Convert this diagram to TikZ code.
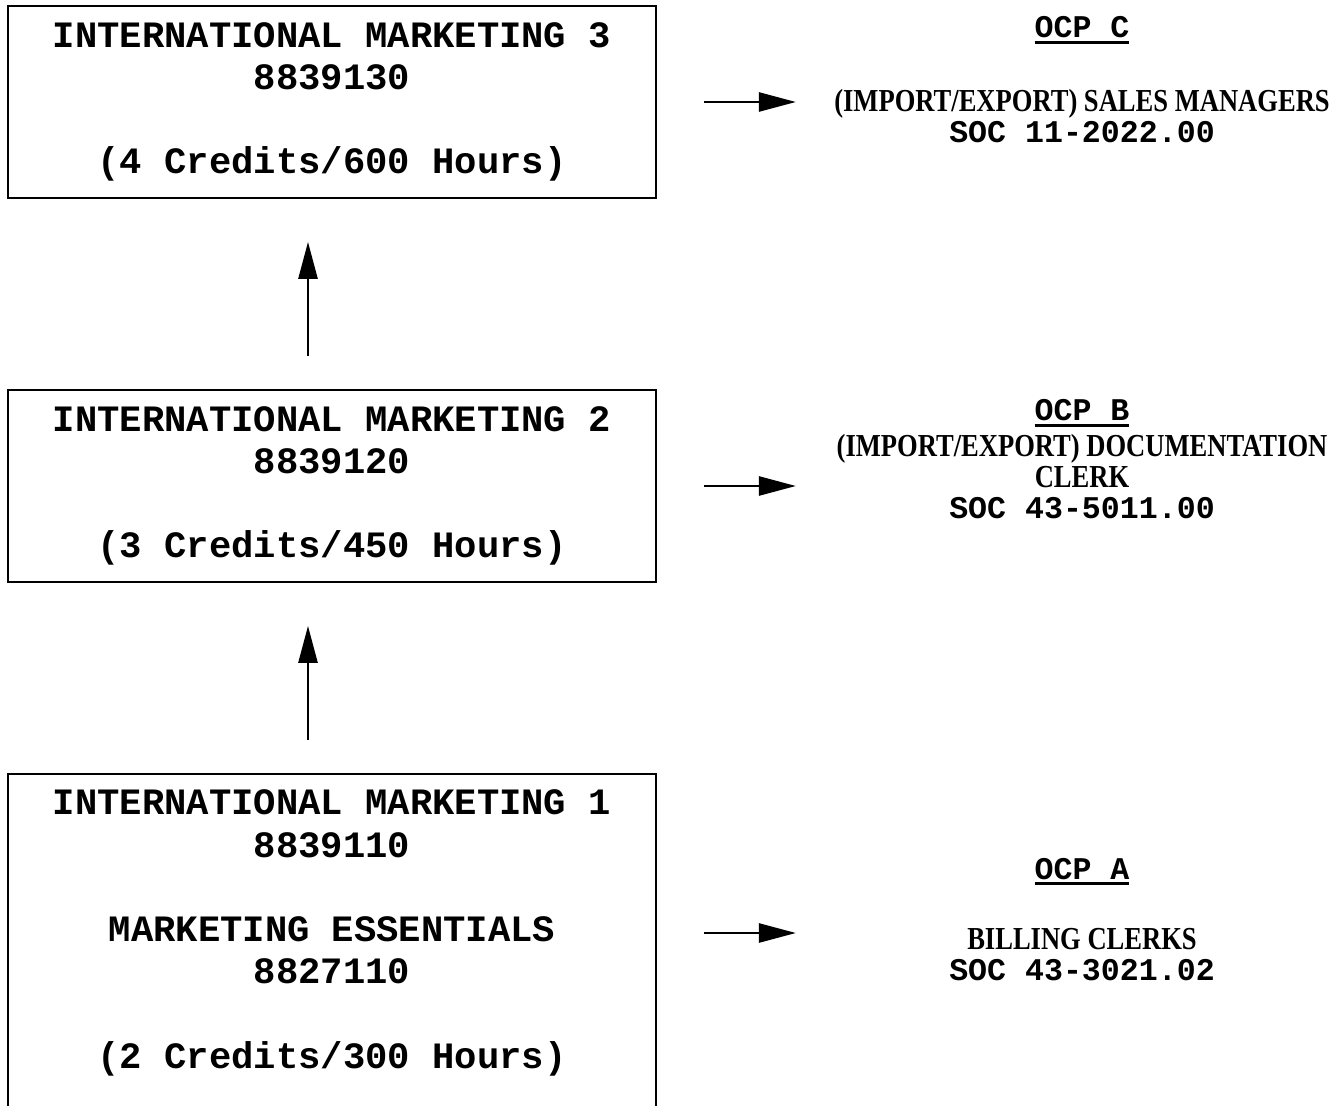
\documentclass[tikz,border=0pt]{standalone}
\usepackage{fontspec}
\setmainfont{Liberation Serif}
\setmonofont{Liberation Mono}
\newfontfamily\jobfont{Liberation Serif}[FakeStretch=0.83]
\usepackage{tikz}
\usetikzlibrary{arrows.meta}
\usetikzlibrary{positioning}
\tikzset{x=0.5pt, y=-0.5pt, >={Triangle[length=18.5pt,width=9.5pt]}}
\tikzstyle{course} = [draw, rectangle, line width=0.9pt, minimum width=324pt, minimum height=96pt, align=center, font=\fontsize{18.6}{21.2}\selectfont\ttfamily\bfseries]
\tikzstyle{coursetext} = [align=center, font=\fontsize{18.6}{21.2}\selectfont\ttfamily\bfseries]
\tikzstyle{ocp} = [font=\fontsize{15.8}{16}\selectfont\ttfamily\bfseries, inner sep=0pt, anchor=base]
\tikzstyle{job} = [align=center, font=\fontsize{16}{15.5}\selectfont\jobfont\bfseries, inner sep=0pt]
\tikzstyle{flow} = [->, line width=1.3pt]
\newcommand{\soc}[1]{{\fontsize{15.8}{15.5}\selectfont\ttfamily\bfseries SOC #1}}
\newcommand{\ocpline}[1]{\setbox0\hbox{#1}\rlap{\rule[-3pt]{\wd0}{1.6pt}}\box0}

\begin{document}
\begin{tikzpicture}
	\clip (0,0) rectangle (1343,1106);
	% courses
	\node [course] (im3) at (332,102) {INTERNATIONAL MARKETING 3\\8839130\\[21pt](4 Credits/600 Hours)};
	\node [course] (im2) at (332,486) {INTERNATIONAL MARKETING 2\\8839120\\[21pt](3 Credits/450 Hours)};
	\node [course, anchor=north, minimum height=200pt] (im1) at (332,773) {};
	\node [coursetext] (im1text) at (332,933) {INTERNATIONAL MARKETING 1\\8839110\\[21pt]MARKETING ESSENTIALS\\8827110\\[21pt](2 Credits/300 Hours)};

	% occupations
	\node [ocp] (ocpC) at (1082,38) {\ocpline{OCP C}};
	\node [job] (jobC) at (1082,116) {(IMPORT/EXPORT) SALES MANAGERS\\\soc{11-2022.00}};
	\node [ocp] (ocpB) at (1082,421) {\ocpline{OCP B}};
	\node [job] (jobB) at (1082,477) {(IMPORT/EXPORT) DOCUMENTATION\\CLERK\\\soc{43-5011.00}};
	\node [ocp] (ocpA) at (1082,879) {\ocpline{OCP A}};
	\node [job] (jobA) at (1082,955) {BILLING CLERKS\\\soc{43-3021.02}};

	\draw [flow, shorten <=16.5pt, shorten >=21.5pt] ([xshift=-12pt]im1.north) -- ([xshift=-12pt]im2.south);
	\draw [flow, shorten <=16.5pt, shorten >=21.5pt] ([xshift=-12pt]im2.north) -- ([xshift=-12pt]im3.south);
	\draw [flow, shorten <=23.5pt] (im3.east) -- ++(139,0);
	\draw [flow, shorten <=23.5pt] (im2.east) -- ++(139,0);
	\draw [flow, shorten <=23.5pt] (im1.east |- im1text) -- ++(139,0);
\end{tikzpicture}
\end{document}
